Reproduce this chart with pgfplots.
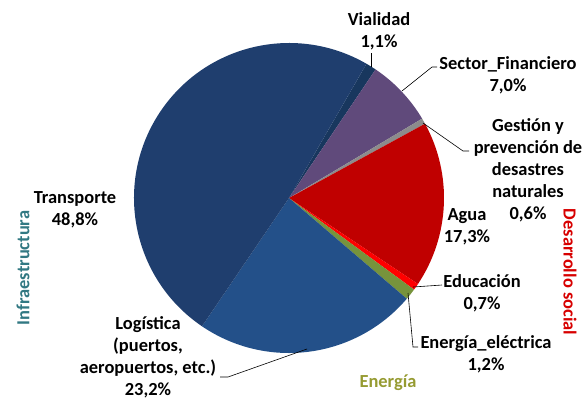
\documentclass[border=0pt]{standalone}
\usepackage{pgfplots}
\pgfplotsset{compat=1.18}
\usepackage{pgfplotstable}
\usepackage{fontspec}
\setmainfont{Carlito}
\definecolor{cTrans}{RGB}{31,62,110}
\definecolor{cLog}{RGB}{35,80,137}
\definecolor{cVial}{RGB}{24,55,94}
\definecolor{cFin}{RGB}{96,74,123}
\definecolor{cGest}{RGB}{140,140,140}
\definecolor{cAgua}{RGB}{192,0,0}
\definecolor{cEdu}{RGB}{255,0,0}
\definecolor{cEner}{RGB}{119,147,60}
\definecolor{cTeal}{RGB}{49,120,130}
\definecolor{cDes}{RGB}{215,0,0}
\definecolor{cOlive}{RGB}{150,155,50}
\pgfplotstableread{
value color
1.1 cVial
7.0 cFin
0.6 cGest
17.3 cAgua
0.7 cEdu
1.2 cEner
23.2 cLog
48.8 cTrans
}\piedata
\begin{document}
\begin{tikzpicture}[lab/.style={font=\bfseries\fontsize{18.5}{22}\selectfont, align=center, inner sep=0pt}]
\begin{axis}[hide axis, x=1bp, y=1bp,
  xmin=0, xmax=585, ymin=0, ymax=401, y dir=reverse, clip=false]
\path (axis cs:0,0) rectangle (axis cs:585,401);
\pgfplotstablegetrowsof{\piedata}
\pgfmathtruncatemacro\nrows{\pgfplotsretval-1}
\gdef\cumang{60}
\foreach \i in {0,...,\nrows}{
  \pgfplotstablegetelem{\i}{value}\of\piedata
  \pgfmathsetmacro\v{\pgfplotsretval}
  \pgfplotstablegetelem{\i}{color}\of\piedata
  \let\col\pgfplotsretval
  \pgfmathsetmacro\endang{\cumang-\v/99.9*360}
  \edef\cmd{\noexpand\fill[\col] (axis cs:289,198) -- ++(\cumang:155bp) arc[start angle=\cumang, end angle=\endang, radius=155bp] -- cycle;}
  \cmd
  \xdef\cumang{\endang}
}
% leader lines
\draw[black, line width=0.6pt] (axis cs:371,67) -- (axis cs:371,53);
\draw[black, line width=0.6pt] (axis cs:402,91) -- (axis cs:432,67) -- (axis cs:437,67);
\draw[black, line width=0.6pt] (axis cs:423,123) -- (axis cs:463,151) -- (axis cs:469,151);
\draw[black, line width=0.6pt] (axis cs:413,287) -- (axis cs:442,285);
\draw[black, line width=0.6pt] (axis cs:408,293) -- (axis cs:413,347) -- (axis cs:418,347);
\draw[black, line width=0.6pt] (axis cs:307,349) -- (axis cs:228,377) -- (axis cs:220,377);
% labels
\node[lab] at (axis cs:379,31) {Vialidad\\1,1\%};
\node[lab] at (axis cs:508,75) {Sector\_Financiero\\7,0\%};
\node[lab] at (axis cs:528,170) {Gestión y\\prevención de\\desastres\\naturales\\0,6\%};
\node[lab] at (axis cs:467,227) {Agua\\17,3\%};
\node[lab] at (axis cs:482,293) {Educación\\0,7\%};
\node[lab] at (axis cs:486,354) {Energía\_eléctrica\\1,2\%};
\node[lab] at (axis cs:148,357) {Logística\\(puertos,\\aeropuertos, etc.)\\23,2\%};
\node[lab] at (axis cs:75,210) {Transporte\\48,8\%};
\node[lab, text=cOlive] at (axis cs:388,383) {Energía};
\node[lab, text=cTeal, rotate=90] at (axis cs:23,268) {Infraestructura};
\node[lab, text=cDes, rotate=-90] at (axis cs:570,272) {Desarrollo social};
\end{axis}
\end{tikzpicture}
\end{document}
